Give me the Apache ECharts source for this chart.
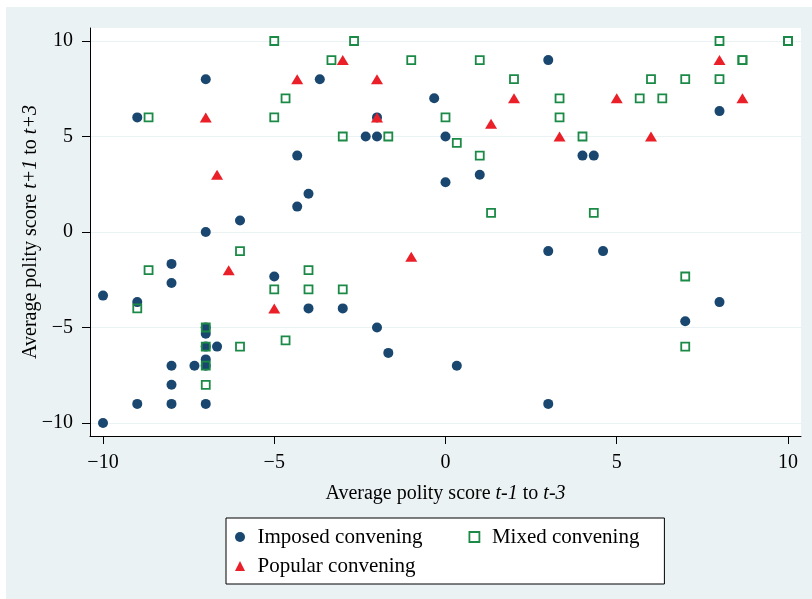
<!DOCTYPE html>
<html>
<head>
<meta charset="utf-8">
<title>Convening type and polity scores</title>
<script src="https://cdn.jsdelivr.net/npm/echarts@6/dist/echarts.min.js"></script>
<style>
  html, body { margin: 0; padding: 0; background: #fff; }
  #chart { width: 812px; height: 599px; }
</style>
</head>
<body>
<div id="chart"></div>
<script>
// Tick positions shared by both axes
const tickValues = [-10, -5, 0, 5, 10];

// [average polity t-1..t-3, average polity t+1..t+3]
const imposed = [
  [-7, 8], [-9, 6], [-6, 0.6], [-7, 0], [-3.67, 8], [-0.33, 7], [-2, 6],
  [-2.33, 5], [-2, 5], [-4.33, 4], [-4, 2], [-4.33, 1.33], [3, 9], [0, 5],
  [4, 4], [4.33, 4], [1, 3], [0, 2.6], [8, 6.33], [-8, -1.67], [-8, -2.67],
  [-10, -3.33], [-9, -3.67], [-7, -5], [-7, -5.33], [-7, -6], [-6.67, -6],
  [-7, -6.67], [-8, -7], [-7.33, -7], [-7, -7], [-8, -8], [-9, -9], [-8, -9],
  [-7, -9], [-10, -10], [-5, -2.33], [-4, -4], [-3, -4], [-2, -5],
  [-1.67, -6.33], [3, -1], [4.6, -1], [0.33, -7], [3, -9], [8, -3.67],
  [7, -4.67]
];

const mixed = [
  [-8.67, 6], [-5, 10], [-2.67, 10], [-3.33, 9], [-1, 9], [-4.67, 7], [-5, 6],
  [-3, 5], [-1.67, 5], [1, 9], [2, 8], [3.33, 7], [0, 6], [3.33, 6],
  [0.33, 4.67], [4, 5], [1, 4], [1.33, 1], [4.33, 1], [8, 10], [10, 10],
  [10, 10], [8.67, 9], [8.67, 9], [6, 8], [7, 8], [8, 8], [5.67, 7], [6.33, 7],
  [-6, -1], [-8.67, -2], [-9, -4], [-7, -5], [-7, -6], [-6, -6], [-7, -7],
  [-7, -8], [-4, -2], [-5, -3], [-4, -3], [-3, -3], [-4.67, -5.67],
  [7, -2.33], [7, -6]
];

const popular = [
  [-7, 6], [-6.67, 3], [-3, 9], [-4.33, 8], [-2, 8], [-2, 6], [2, 7], [5, 7],
  [1.33, 5.67], [3.33, 5], [8, 9], [8.67, 7], [6, 5], [-6.33, -2], [-1, -1.3],
  [-5, -4]
];

const seriesNames = ['Imposed convening', 'Mixed convening', 'Popular convening'];

const FONT = 'Liberation Serif, Times New Roman, serif';
const NAVY = '#1a476f';
const GREEN = '#1c8a47';
const RED = '#ea1f28';

const fmt = v => (v < 0 ? '\u2212' : '') + Math.abs(v);

const chart = echarts.init(document.getElementById('chart'), null, { renderer: 'canvas' });

chart.setOption({
  animation: false,
  backgroundColor: '#EAF2F3',
  graphic: [
    { type: 'rect', left: 0, top: 0, shape: { width: 6, height: 599 }, style: { fill: '#fff' }, silent: true },
    { type: 'rect', left: 0, top: 0, shape: { width: 812, height: 7 }, style: { fill: '#fff' }, silent: true }
  ],
  grid: {
    left: 90, right: 11, top: 28, bottom: 163,
    show: true, backgroundColor: '#fff', borderWidth: 0
  },
  xAxis: {
    type: 'value',
    min: -10.38, max: 10.38,
    name: 'Average polity score {i|t-1} to {i|t-3}',
    nameLocation: 'middle',
    nameGap: 48,
    nameMoveOverlap: false,
    nameTextStyle: {
      fontFamily: FONT, fontSize: 20, color: '#000',
      rich: { i: { fontFamily: FONT, fontSize: 20, fontStyle: 'italic', color: '#000' } }
    },
    axisLine: { show: true, onZero: false, lineStyle: { color: '#000', width: 1 } },
    axisTick: { show: true, inside: false, length: 8, customValues: tickValues, lineStyle: { color: '#000', width: 1 } },
    axisLabel: { customValues: tickValues, margin: 17, fontFamily: FONT, fontSize: 20, color: '#000', formatter: fmt },
    splitLine: { show: false }
  },
  yAxis: {
    type: 'value',
    min: -10.68, max: 10.68,
    name: 'Average polity score {i|t+1} to {i|t+3}',
    nameLocation: 'middle',
    nameGap: 49,
    nameMoveOverlap: false,
    nameTextStyle: {
      fontFamily: FONT, fontSize: 20, color: '#000',
      rich: { i: { fontFamily: FONT, fontSize: 20, fontStyle: 'italic', color: '#000' } }
    },
    axisLine: { show: true, onZero: false, lineStyle: { color: '#000', width: 1 } },
    axisTick: { show: true, inside: false, length: 8, customValues: tickValues, lineStyle: { color: '#000', width: 1 } },
    axisLabel: { customValues: tickValues, margin: 17, fontFamily: FONT, fontSize: 20, color: '#000', formatter: fmt },
    splitLine: { show: true, lineStyle: { color: '#EAF2F3', width: 1.2 } }
  },
  legend: {
    left: 226, top: 518,
    width: 425,
    orient: 'horizontal',
    padding: [7, 12.5, 6, 9],
    itemWidth: 10, itemHeight: 10, itemGap: 5,
    backgroundColor: '#fff',
    borderColor: '#000', borderWidth: 1, borderRadius: 0,
    textStyle: { fontFamily: FONT, fontSize: 21, lineHeight: 24, color: '#000', padding: [0, 0, 0, 7.5] },
    data: [
      { name: seriesNames[0], icon: 'circle', itemStyle: { color: NAVY, borderWidth: 0 }, textStyle: { width: 206 } },
      { name: seriesNames[1], icon: 'rect', itemStyle: { color: 'rgba(0,0,0,0)', borderColor: GREEN, borderWidth: 1.8 }, textStyle: { width: 160 } },
      { name: seriesNames[2], icon: 'triangle', itemStyle: { color: RED, borderWidth: 0 }, textStyle: { width: 206 } }
    ]
  },
  series: [
    {
      name: seriesNames[0], type: 'scatter', data: imposed,
      symbol: 'circle', symbolSize: 10,
      itemStyle: { color: NAVY, opacity: 1 },
      emphasis: { disabled: true }
    },
    {
      name: seriesNames[1], type: 'scatter', data: mixed,
      symbol: 'rect', symbolSize: 8,
      itemStyle: { color: 'rgba(0,0,0,0)', borderColor: GREEN, borderWidth: 1.8, opacity: 1 },
      emphasis: { disabled: true }
    },
    {
      name: seriesNames[2], type: 'scatter', data: popular,
      symbol: 'triangle', symbolSize: [12, 10],
      itemStyle: { color: RED, opacity: 1 },
      emphasis: { disabled: true }
    }
  ]
});
</script>
</body>
</html>
